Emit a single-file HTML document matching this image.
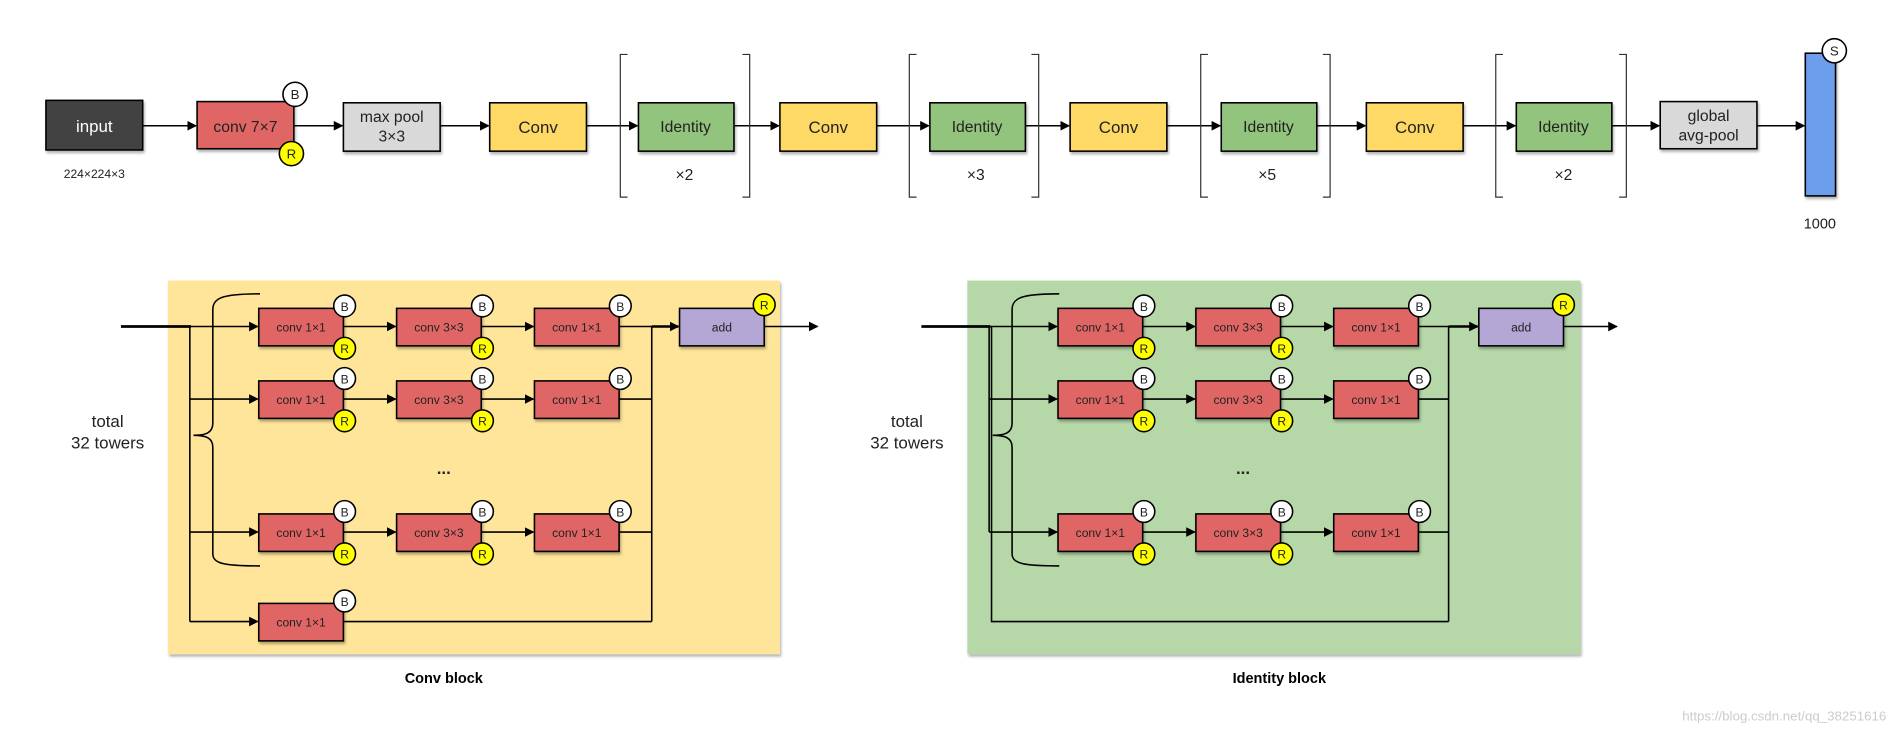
<!DOCTYPE html>
<html><head><meta charset="utf-8"><style>
html,body{margin:0;padding:0;background:#fff;}
svg{display:block;}
text{font-family:"Liberation Sans",sans-serif;}
</style></head><body>
<svg width="1896" height="734" viewBox="0 0 1568 607" xmlns="http://www.w3.org/2000/svg">
<defs>
<marker id="a" markerWidth="8" markerHeight="8" refX="7" refY="4" orient="auto" markerUnits="userSpaceOnUse"><path d="M0,0 L8,4 L0,8 z" fill="#000"/></marker>
<filter id="sh" x="-5%" y="-5%" width="115%" height="125%"><feDropShadow dx="1" dy="2" stdDeviation="1.2" flood-color="#000" flood-opacity="0.3"/></filter>
</defs>
<g stroke="#000" stroke-width="1.3" fill="none" marker-end="url(#a)">
<line x1="118" y1="104" x2="162" y2="104"/>
<line x1="243" y1="104" x2="283" y2="104"/>
<line x1="364" y1="104" x2="404" y2="104"/>
<line x1="485" y1="104" x2="527" y2="104"/>
<line x1="607" y1="104" x2="644" y2="104"/>
<line x1="725" y1="104" x2="768" y2="104"/>
<line x1="848" y1="104" x2="884" y2="104"/>
<line x1="965" y1="104" x2="1009" y2="104"/>
<line x1="1089" y1="104" x2="1129" y2="104"/>
<line x1="1210" y1="104" x2="1253" y2="104"/>
<line x1="1333" y1="104" x2="1372" y2="104"/>
<line x1="1453" y1="104" x2="1492" y2="104"/>
</g>
<g stroke="#333" stroke-width="1" fill="none">
<path d="M519,45 H513 V163 H519 M614,45 H620 V163 H614"/>
<path d="M758,45 H752 V163 H758 M853,45 H859 V163 H853"/>
<path d="M999,45 H993 V163 H999 M1094,45 H1100 V163 H1094"/>
<path d="M1243,45 H1237 V163 H1243 M1339,45 H1345 V163 H1339"/>
</g>
<g stroke="#000" stroke-width="1.3" filter="url(#sh)">
<rect x="38" y="83" width="80" height="41" fill="#434343"/>
<rect x="163" y="84" width="80" height="39" fill="#e06666"/>
<rect x="284" y="85" width="80" height="40" fill="#d9d9d9"/>
<rect x="405" y="85" width="80" height="40" fill="#ffd966"/>
<rect x="528" y="85" width="79" height="40" fill="#93c47d"/>
<rect x="645" y="85" width="80" height="40" fill="#ffd966"/>
<rect x="769" y="85" width="79" height="40" fill="#93c47d"/>
<rect x="885" y="85" width="80" height="40" fill="#ffd966"/>
<rect x="1010" y="85" width="79" height="40" fill="#93c47d"/>
<rect x="1130" y="85" width="80" height="40" fill="#ffd966"/>
<rect x="1254" y="85" width="79" height="40" fill="#93c47d"/>
<rect x="1373" y="84" width="80" height="39" fill="#d9d9d9"/>
<rect x="1493" y="44" width="25" height="118" fill="#6d9eeb"/>
</g>
<g stroke="#000" stroke-width="1.3">
<circle cx="244" cy="78" r="10" fill="#fff"/><circle cx="241" cy="127" r="10" fill="#ff0"/>
<circle cx="1517" cy="42" r="10" fill="#fff"/>
</g>
<g font-size="13" text-anchor="middle" fill="#222">
<text x="78" y="109" fill="#fff" font-size="14">input</text>
<text x="78" y="147" font-size="10">224×224×3</text>
<text x="203" y="109">conv 7×7</text>
<text x="244" y="82" font-size="11">B</text><text x="241" y="131" font-size="11">R</text>
<text x="324" y="101">max pool</text><text x="324" y="117">3×3</text>
<text x="445" y="110" font-size="14">Conv</text>
<text x="567" y="109">Identity</text><text x="566" y="149">×2</text>
<text x="685" y="110" font-size="14">Conv</text>
<text x="808" y="109">Identity</text><text x="807" y="149">×3</text>
<text x="925" y="110" font-size="14">Conv</text>
<text x="1049" y="109">Identity</text><text x="1048" y="149">×5</text>
<text x="1170" y="110" font-size="14">Conv</text>
<text x="1293" y="109">Identity</text><text x="1293" y="149">×2</text>
<text x="1413" y="100">global</text><text x="1413" y="116">avg-pool</text>
<text x="1517" y="46" font-size="11">S</text>
<text x="1505" y="189" font-size="12">1000</text>
</g>

<!-- Conv block -->
<rect x="139" y="232" width="506" height="309" fill="#ffe599" filter="url(#sh)"/>
<g stroke="#000" stroke-width="1.3" fill="none">
<line x1="100" y1="270" x2="158" y2="270" stroke-width="2.2"/>
<path d="M157,270 V514"/>
<path d="M512,270 H539 V514 M512,330 H539 M512,440 H539 M284,514 H539"/>
<path d="M215,243 C185,243 176,246 176,256 V350 C176,358 170,360 160,360 C170,360 176,362 176,370 V458 C176,466 185,468 215,468"/>
</g>
<g stroke="#000" stroke-width="1.3" fill="none" marker-end="url(#a)">
<line x1="157" y1="270" x2="213" y2="270"/><line x1="284" y1="270" x2="327" y2="270"/><line x1="398" y1="270" x2="441" y2="270"/>
<line x1="157" y1="330" x2="213" y2="330"/><line x1="284" y1="330" x2="327" y2="330"/><line x1="398" y1="330" x2="441" y2="330"/>
<line x1="157" y1="440" x2="213" y2="440"/><line x1="284" y1="440" x2="327" y2="440"/><line x1="398" y1="440" x2="441" y2="440"/>
<line x1="157" y1="514" x2="213" y2="514"/>
<line x1="539" y1="270" x2="561" y2="270" stroke-width="2"/>
<line x1="632" y1="270" x2="676" y2="270"/>
</g>
<g stroke="#000" stroke-width="1.3" filter="url(#sh)" fill="#e06666">
<rect x="214" y="255" width="70" height="31"/><rect x="328" y="255" width="70" height="31"/><rect x="442" y="255" width="70" height="31"/>
<rect x="214" y="315" width="70" height="31"/><rect x="328" y="315" width="70" height="31"/><rect x="442" y="315" width="70" height="31"/>
<rect x="214" y="425" width="70" height="31"/><rect x="328" y="425" width="70" height="31"/><rect x="442" y="425" width="70" height="31"/>
<rect x="214" y="499" width="70" height="31"/>
<rect x="562" y="255" width="70" height="31" fill="#b4a7d6"/>
</g>
<g stroke="#000" stroke-width="1.3" fill="#fff">
<circle cx="285" cy="253" r="9"/><circle cx="399" cy="253" r="9"/><circle cx="513" cy="253" r="9"/>
<circle cx="285" cy="313" r="9"/><circle cx="399" cy="313" r="9"/><circle cx="513" cy="313" r="9"/>
<circle cx="285" cy="423" r="9"/><circle cx="399" cy="423" r="9"/><circle cx="513" cy="423" r="9"/>
<circle cx="285" cy="497" r="9"/>
<g fill="#ff0"><circle cx="285" cy="288" r="9"/><circle cx="399" cy="288" r="9"/><circle cx="285" cy="348" r="9"/><circle cx="399" cy="348" r="9"/><circle cx="285" cy="458" r="9"/><circle cx="399" cy="458" r="9"/><circle cx="632" cy="252" r="9"/></g>
</g>
<g font-size="10" text-anchor="middle" fill="#222">
<text x="249" y="274">conv 1×1</text><text x="363" y="274">conv 3×3</text><text x="477" y="274">conv 1×1</text>
<text x="249" y="334">conv 1×1</text><text x="363" y="334">conv 3×3</text><text x="477" y="334">conv 1×1</text>
<text x="249" y="444">conv 1×1</text><text x="363" y="444">conv 3×3</text><text x="477" y="444">conv 1×1</text>
<text x="249" y="518">conv 1×1</text><text x="597" y="274">add</text>
<text x="285" y="257">B</text><text x="399" y="257">B</text><text x="513" y="257">B</text>
<text x="285" y="317">B</text><text x="399" y="317">B</text><text x="513" y="317">B</text>
<text x="285" y="427">B</text><text x="399" y="427">B</text><text x="513" y="427">B</text><text x="285" y="501">B</text>
<text x="285" y="292">R</text><text x="399" y="292">R</text><text x="285" y="352">R</text><text x="399" y="352">R</text><text x="285" y="462">R</text><text x="399" y="462">R</text><text x="632" y="256">R</text>
<text x="367" y="392" font-size="14" font-weight="bold">...</text>
<text x="89" y="353" font-size="14">total</text><text x="89" y="371" font-size="14">32 towers</text>
<text x="367" y="565" font-size="12" font-weight="bold" fill="#000">Conv block</text>
</g>

<!-- Identity block -->
<rect x="800" y="232" width="507" height="309" fill="#b6d7a8" filter="url(#sh)"/>
<g stroke="#000" stroke-width="1.3" fill="none">
<line x1="762" y1="270" x2="819" y2="270" stroke-width="2.2"/>
<path d="M818,270 V440 M820,270 V514 H1198"/>
<path d="M1173,270 H1198 V514 M1173,330 H1198 M1173,440 H1198"/>
<path d="M876,243 C846,243 837,246 837,256 V350 C837,358 831,360 821,360 C831,360 837,362 837,370 V458 C837,466 846,468 876,468"/>
</g>
<g stroke="#000" stroke-width="1.3" fill="none" marker-end="url(#a)">
<line x1="818" y1="270" x2="874" y2="270"/><line x1="945" y1="270" x2="988" y2="270"/><line x1="1059" y1="270" x2="1102" y2="270"/>
<line x1="818" y1="330" x2="874" y2="330"/><line x1="945" y1="330" x2="988" y2="330"/><line x1="1059" y1="330" x2="1102" y2="330"/>
<line x1="818" y1="440" x2="874" y2="440"/><line x1="945" y1="440" x2="988" y2="440"/><line x1="1059" y1="440" x2="1102" y2="440"/>
<line x1="1198" y1="270" x2="1222" y2="270" stroke-width="2"/>
<line x1="1293" y1="270" x2="1337" y2="270"/>
</g>
<g stroke="#000" stroke-width="1.3" filter="url(#sh)" fill="#e06666">
<rect x="875" y="255" width="70" height="31"/><rect x="989" y="255" width="70" height="31"/><rect x="1103" y="255" width="70" height="31"/>
<rect x="875" y="315" width="70" height="31"/><rect x="989" y="315" width="70" height="31"/><rect x="1103" y="315" width="70" height="31"/>
<rect x="875" y="425" width="70" height="31"/><rect x="989" y="425" width="70" height="31"/><rect x="1103" y="425" width="70" height="31"/>
<rect x="1223" y="255" width="70" height="31" fill="#b4a7d6"/>
</g>
<g stroke="#000" stroke-width="1.3" fill="#fff">
<circle cx="946" cy="253" r="9"/><circle cx="1060" cy="253" r="9"/><circle cx="1174" cy="253" r="9"/>
<circle cx="946" cy="313" r="9"/><circle cx="1060" cy="313" r="9"/><circle cx="1174" cy="313" r="9"/>
<circle cx="946" cy="423" r="9"/><circle cx="1060" cy="423" r="9"/><circle cx="1174" cy="423" r="9"/>
<g fill="#ff0"><circle cx="946" cy="288" r="9"/><circle cx="1060" cy="288" r="9"/><circle cx="946" cy="348" r="9"/><circle cx="1060" cy="348" r="9"/><circle cx="946" cy="458" r="9"/><circle cx="1060" cy="458" r="9"/><circle cx="1293" cy="252" r="9"/></g>
</g>
<g font-size="10" text-anchor="middle" fill="#222">
<text x="910" y="274">conv 1×1</text><text x="1024" y="274">conv 3×3</text><text x="1138" y="274">conv 1×1</text>
<text x="910" y="334">conv 1×1</text><text x="1024" y="334">conv 3×3</text><text x="1138" y="334">conv 1×1</text>
<text x="910" y="444">conv 1×1</text><text x="1024" y="444">conv 3×3</text><text x="1138" y="444">conv 1×1</text>
<text x="1258" y="274">add</text>
<text x="946" y="257">B</text><text x="1060" y="257">B</text><text x="1174" y="257">B</text>
<text x="946" y="317">B</text><text x="1060" y="317">B</text><text x="1174" y="317">B</text>
<text x="946" y="427">B</text><text x="1060" y="427">B</text><text x="1174" y="427">B</text>
<text x="946" y="292">R</text><text x="1060" y="292">R</text><text x="946" y="352">R</text><text x="1060" y="352">R</text><text x="946" y="462">R</text><text x="1060" y="462">R</text><text x="1293" y="256">R</text>
<text x="1028" y="392" font-size="14" font-weight="bold">...</text>
<text x="750" y="353" font-size="14">total</text><text x="750" y="371" font-size="14">32 towers</text>
<text x="1058" y="565" font-size="12" font-weight="bold" fill="#000">Identity block</text>
</g>
<text x="1560" y="596" font-size="11" text-anchor="end" fill="#ccc">https://blog.csdn.net/qq_38251616</text>
</svg>
</body></html>
